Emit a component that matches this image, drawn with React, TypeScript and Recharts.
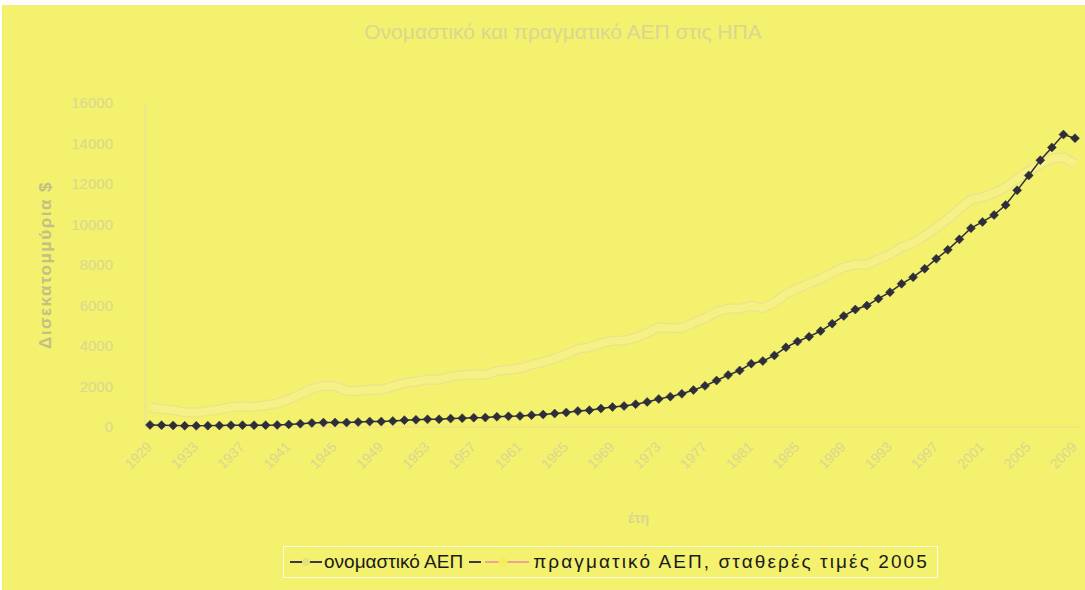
import React from 'react';
import { LineChart, Line, XAxis, YAxis } from 'recharts';

const years: number[] = [];
for (let y = 1929; y <= 2009; y++) years.push(y);

const nominalGDP = [
  103.6, 91.2, 76.5, 58.7, 56.4, 66.0, 73.3, 83.8, 91.9, 86.1,
  92.2, 101.4, 126.7, 161.9, 198.6, 219.8, 223.0, 222.2, 244.1, 269.1,
  267.2, 293.7, 339.3, 358.3, 379.4, 380.4, 414.8, 437.5, 461.1, 467.2,
  506.6, 526.4, 544.7, 585.6, 617.7, 663.6, 719.1, 787.8, 832.6, 910.0,
  984.6, 1038.5, 1127.1, 1238.3, 1382.7, 1500.0, 1638.3, 1825.3, 2030.9, 2294.7,
  2563.3, 2789.5, 3128.4, 3255.0, 3536.7, 3933.2, 4220.3, 4462.8, 4739.5, 5103.8,
  5484.4, 5803.1, 5995.9, 6337.7, 6657.4, 7072.2, 7397.7, 7816.9, 8304.3, 8747.0,
  9268.4, 9817.0, 10128.0, 10469.6, 10960.8, 11685.9, 12421.9, 13178.4, 13807.5, 14441.4,
  14258.7,
];

const realGDP = [
  977.0, 892.8, 834.9, 725.8, 716.4, 794.4, 865.0, 977.9, 1027.1, 992.6,
  1072.8, 1166.9, 1366.1, 1618.2, 1883.1, 2035.2, 2012.4, 1792.2, 1776.1, 1854.2,
  1844.7, 2006.0, 2161.1, 2243.9, 2347.2, 2332.4, 2500.3, 2549.7, 2601.1, 2577.6,
  2762.5, 2830.9, 2896.9, 3072.4, 3206.7, 3392.3, 3610.1, 3845.3, 3942.5, 4133.4,
  4261.8, 4269.9, 4413.3, 4647.7, 4917.0, 4889.9, 4879.5, 5141.3, 5377.7, 5677.6,
  5855.0, 5839.0, 5987.2, 5870.9, 6136.2, 6577.1, 6849.3, 7086.5, 7313.3, 7613.9,
  7885.9, 8033.9, 8015.1, 8287.1, 8523.4, 8870.7, 9093.7, 9433.9, 9854.3, 10283.5,
  10779.8, 11226.0, 11347.2, 11553.0, 11840.7, 12263.8, 12638.4, 12976.2, 13254.1, 13312.2,
  12990.3,
];

const yTicks = [0, 2000, 4000, 6000, 8000, 10000, 12000, 14000, 16000];

const title = 'Ονομαστικό και πραγματικό ΑΕΠ στις ΗΠΑ';
const yTitle = 'Δισεκατομμύρια $';
const xTitle = 'έτη';
const seriesNames = ['ονομαστικό ΑΕΠ', 'πραγματικό ΑΕΠ, σταθερές τιμές 2005'];

const data = years.map((y, i) => ({ year: String(y), nominal: nominalGDP[i], real: realGDP[i] }));

const BG = '#f3f16e';
const FAINT = '#d9d792';

const Diamond = (props: any) => {
  const { cx, cy, index } = props;
  if (cx == null || cy == null) return <g key={index} />;
  const r = 4.5;
  return (
    <path
      key={index}
      d={`M${cx},${cy - r} L${cx + r},${cy} L${cx},${cy + r} L${cx - r},${cy} Z`}
      fill="#2e2e3a"
      stroke="#2e2e3a"
      strokeWidth={0.5}
    />
  );
};

const XTick = (props: any) => {
  const { x, y, payload } = props;
  return (
    <g transform={`translate(${x},${y + 10})`}>
      <text
        transform="rotate(-45)"
        textAnchor="end"
        fill={FAINT}
        fontSize={14}
        fontFamily="Liberation Sans, Arial, sans-serif"
        dy={4}
      >
        {payload.value}
      </text>
    </g>
  );
};

export default function App() {
  return (
    <div
      style={{
        position: 'fixed',
        left: 0,
        top: 0,
        width: 1085,
        height: 590,
        background: '#ffffff',
        overflow: 'hidden',
        fontFamily: 'Liberation Sans, Arial, sans-serif',
      }}
    >
      <div style={{ position: 'absolute', left: 2, top: 5, width: 1083, height: 585, background: BG }} />
      <div
        style={{
          position: 'absolute',
          left: 563,
          top: 20,
          transform: 'translateX(-50%)',
          color: FAINT,
          fontSize: 21,
          whiteSpace: 'nowrap',
        }}
      >
        {title}
      </div>
      <div
        style={{
          position: 'absolute',
          left: 46,
          top: 265,
          transform: 'translate(-50%, -50%) rotate(-90deg)',
          color: '#c2c084',
          fontSize: 17,
          letterSpacing: 1.5,
          fontWeight: 'bold',
          whiteSpace: 'nowrap',
        }}
      >
        {yTitle}
      </div>
      <div
        style={{
          position: 'absolute',
          left: 628,
          top: 510,
          color: FAINT,
          fontSize: 14,
          fontWeight: 'bold',
        }}
      >
        {xTitle}
      </div>
      <div style={{ position: 'absolute', left: 0, top: 0 }}>
        <LineChart
          width={1085}
          height={590}
          data={data}
          margin={{ top: 103, right: 5, left: 0, bottom: 0 }}
        >
          <XAxis
            dataKey="year"
            interval={3}
            padding={{ left: 5, right: 5 }}
            tick={<XTick />}
            tickLine={false}
            axisLine={{ stroke: '#eddc8c', strokeWidth: 1 }}
            height={163}
          />
          <YAxis
            domain={[0, 16000]}
            ticks={yTicks}
            width={145}
            tick={{ fill: FAINT, fontSize: 15, fontFamily: 'Liberation Sans, Arial, sans-serif' }}
            tickLine={false}
            axisLine={{ stroke: '#e2e0a4', strokeWidth: 1 }}
            tickMargin={26}
          />
          <Line
            dataKey="real"
            stroke="#efe090"
            strokeWidth={10}
            dot={false}
            isAnimationActive={false}
            legendType="none"
          />
          <Line
            dataKey="real"
            name={seriesNames[1]}
            stroke="#f5f184"
            strokeWidth={7.5}
            dot={false}
            isAnimationActive={false}
          />
          <Line
            dataKey="nominal"
            name={seriesNames[0]}
            stroke="#2e2e3a"
            strokeWidth={1.5}
            dot={<Diamond />}
            isAnimationActive={false}
          />
        </LineChart>
      </div>
      <div
        style={{
          position: 'absolute',
          left: 283,
          top: 546,
          width: 655,
          height: 32,
          border: '1px solid #fbfbe6',
          boxSizing: 'border-box',
          display: 'flex',
          alignItems: 'center',
          paddingLeft: 6,
          fontSize: 19,
          color: '#1a1a1a',
          whiteSpace: 'nowrap',
        }}
      >
        <svg width={32} height={12} style={{ marginRight: 2 }}>
          <line x1={0} y1={6} x2={32} y2={6} stroke="#3a3a44" strokeWidth={2} />
          <circle cx={16} cy={6} r={4} fill="#e4e27a" />
        </svg>
        <span>{seriesNames[0]}</span>
        <svg width={60} height={12} style={{ marginLeft: 6, marginRight: 4 }}>
          <line x1={0} y1={6} x2={12} y2={6} stroke="#3a3a44" strokeWidth={2} />
          <line x1={16} y1={6} x2={60} y2={6} stroke="#eba39a" strokeWidth={2} />
          <circle cx={34} cy={6} r={4.5} fill="#f4ee5a" />
        </svg>
        <span style={{ letterSpacing: 2.1 }}>{seriesNames[1]}</span>
      </div>
    </div>
  );
}
